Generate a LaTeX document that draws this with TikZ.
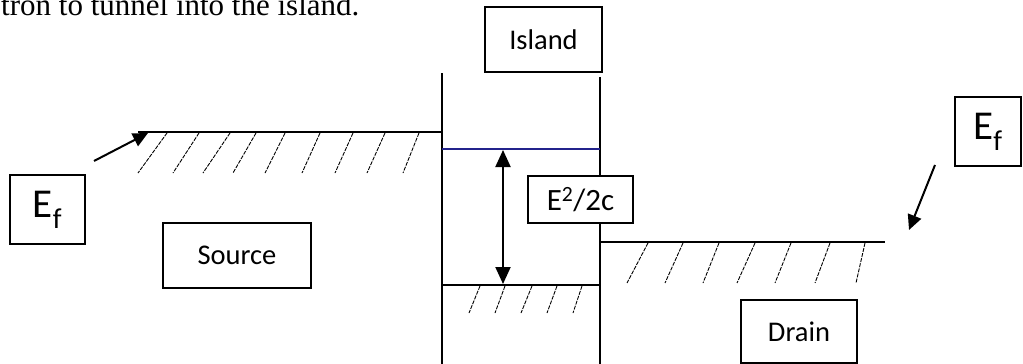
\documentclass[tikz,border=0pt]{standalone}
\usepackage{fontspec}
\setmainfont{Liberation Serif}
\newfontfamily\calfont{Carlito}
\usetikzlibrary{arrows.meta}
\definecolor{levelblue}{RGB}{35,35,140}
\tikzset{
  box/.style={draw, line width=1.3pt, fill=white, inner sep=0pt, font=\calfont\fontsize{28.5}{30}\selectfont},
  efbox/.style={box, font=\calfont\fontsize{41}{43}\selectfont},
  wall/.style={line width=1.4pt},
  level/.style={line width=1.4pt},
  hatch/.style={line width=0.9pt, dash pattern=on 4pt off 1.2pt},
  ptr/.style={line width=2pt, -{Triangle[width=14pt,length=15pt]}},
  dbl/.style={line width=2pt, {Triangle[width=15pt,length=17pt]}-{Triangle[width=15pt,length=17pt]}}
}
\begin{document}
\begin{tikzpicture}[x=1pt,y=-1pt]
\useasboundingbox (0,0) rectangle (1023,364);
% caption fragment
\node[anchor=base west, inner sep=0pt, font=\fontsize{31}{33}\selectfont] (cap) at (1,16) {tron to tunnel into the island.};
% coordinates
\coordinate (sl) at (138,132);
\coordinate (sr) at (442,132);
\coordinate (lwt) at (442,73);
\coordinate (lwb) at (442,364);
\coordinate (rwt) at (600,77);
\coordinate (rwb) at (600,364);
\coordinate (bl) at (442,149);
\coordinate (br) at (600,149);
\coordinate (il) at (442,285);
\coordinate (ir) at (600,285);
\coordinate (dl) at (600,242);
\coordinate (dr) at (885,242);
\coordinate (aup) at (503,150);
\coordinate (adn) at (503,284);
\coordinate (p1s) at (94,161);
\coordinate (p1e) at (148,133);
\coordinate (p2s) at (935,165);
\coordinate (p2e) at (909,230);
% walls and levels
\draw[wall] (lwt) -- (lwb);
\draw[wall] (rwt) -- (rwb);
\draw[level] (sl) -- (sr);
\draw[level, levelblue] (bl) -- (br);
\draw[level] (il) -- (ir);
\draw[level] (dl) -- (dr);
% hatches
\foreach \t/\b in {167/138,199/173,230/203,256/233,285/265,320/302,353/335,385/367,419/403}
  \draw[hatch] (\t,133) -- (\b,173);
\foreach \t/\b in {480/469,505/495,532/521,557/547,582/573}
  \draw[hatch] (\t,286) -- (\b,313);
\foreach \t/\b in {648/627,683/665,719/703,755/737,791/775,830/815,865/856}
  \draw[hatch] (\t,243) -- (\b,283);
% boxes
\node[box, minimum width=117pt, minimum height=65pt] (island) at (543.5,39.5) {Island};
\node[box, minimum width=148pt, minimum height=65pt] (source) at (237,255.5) {Source};
\node[box, minimum width=116pt, minimum height=63pt] (drain) at (799,331.5) {Drain};
\node[box, minimum width=105pt, minimum height=47pt, font=\calfont\fontsize{31}{33}\selectfont] (gap) at (580.5,199.5) {E\textsuperscript{2}/2c};
\node[efbox, minimum width=75pt, minimum height=69pt] (efl) at (47.5,209.5) {E\textsubscript{f}};
\node[efbox, minimum width=66pt, minimum height=69pt] (efr) at (988,131.5) {E\textsubscript{f}};
% arrows
\draw[ptr] (p1s) -- (p1e);
\draw[ptr] (p2s) -- (p2e);
\draw[dbl] (aup) -- (adn);
\end{tikzpicture}
\end{document}
